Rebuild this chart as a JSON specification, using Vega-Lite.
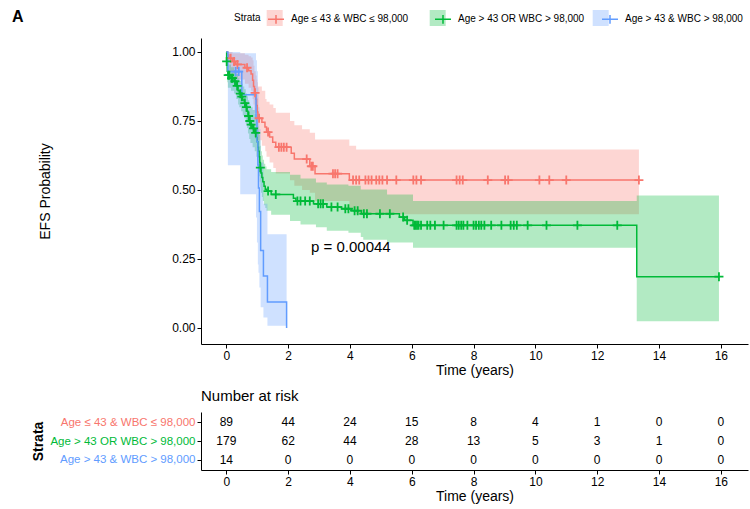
{
  "$schema": "https://vega.github.io/schema/vega-lite/v6.json",
  "padding": {"left": 12, "top": 9, "right": 2, "bottom": 2},
  "config": {
    "font": "Liberation Sans",
    "view": {"stroke": null},
    "axis": {"domainColor": "#000", "tickColor": "#000", "titleColor": "#000", "grid": false, "labelFontSize": 12, "titleFontSize": 14, "titleFontWeight": "normal", "tickSize": 4, "labelPadding": 2, "domainWidth": 1, "labelFlush": false, "labelOverlap": false}
  },
  "datasets": {
    "curve": [
      {"g":"r","t":0,"s":1},{"g":"r","t":0.04,"s":0.989},{"g":"r","t":0.08,"s":0.977},{"g":"r","t":0.2,"s":0.966},{"g":"r","t":0.3,"s":0.955},{"g":"r","t":0.6,"s":0.943},{"g":"r","t":0.72,"s":0.932},{"g":"r","t":0.8,"s":0.92},{"g":"r","t":0.85,"s":0.898},{"g":"r","t":0.88,"s":0.875},{"g":"r","t":0.91,"s":0.852},{"g":"r","t":0.95,"s":0.829},{"g":"r","t":0.98,"s":0.806},{"g":"r","t":1.0,"s":0.783},{"g":"r","t":1.02,"s":0.76},{"g":"r","t":1.15,"s":0.745},{"g":"r","t":1.25,"s":0.728},{"g":"r","t":1.3,"s":0.71},{"g":"r","t":1.4,"s":0.692},{"g":"r","t":1.5,"s":0.673},{"g":"r","t":1.6,"s":0.655},{"g":"r","t":2.1,"s":0.633},{"g":"r","t":2.2,"s":0.612},{"g":"r","t":2.7,"s":0.586},{"g":"r","t":2.87,"s":0.559},{"g":"r","t":3.98,"s":0.536},{"g":"r","t":13.35,"s":0.536},
      {"g":"g","t":0,"s":1},{"g":"g","t":0.01,"s":0.966},{"g":"g","t":0.03,"s":0.93},{"g":"g","t":0.05,"s":0.916},{"g":"g","t":0.15,"s":0.905},{"g":"g","t":0.25,"s":0.894},{"g":"g","t":0.32,"s":0.877},{"g":"g","t":0.38,"s":0.86},{"g":"g","t":0.42,"s":0.849},{"g":"g","t":0.48,"s":0.838},{"g":"g","t":0.53,"s":0.826},{"g":"g","t":0.58,"s":0.815},{"g":"g","t":0.63,"s":0.8},{"g":"g","t":0.67,"s":0.785},{"g":"g","t":0.7,"s":0.768},{"g":"g","t":0.74,"s":0.75},{"g":"g","t":0.78,"s":0.737},{"g":"g","t":0.85,"s":0.723},{"g":"g","t":0.92,"s":0.707},{"g":"g","t":0.97,"s":0.69},{"g":"g","t":1.0,"s":0.675},{"g":"g","t":1.02,"s":0.655},{"g":"g","t":1.04,"s":0.64},{"g":"g","t":1.06,"s":0.62},{"g":"g","t":1.08,"s":0.6},{"g":"g","t":1.1,"s":0.581},{"g":"g","t":1.12,"s":0.562},{"g":"g","t":1.15,"s":0.545},{"g":"g","t":1.18,"s":0.53},{"g":"g","t":1.22,"s":0.514},{"g":"g","t":1.26,"s":0.503},{"g":"g","t":1.3,"s":0.496},{"g":"g","t":1.45,"s":0.484},{"g":"g","t":2.17,"s":0.47},{"g":"g","t":2.25,"s":0.46},{"g":"g","t":2.82,"s":0.45},{"g":"g","t":3.25,"s":0.438},{"g":"g","t":3.73,"s":0.432},{"g":"g","t":4.05,"s":0.425},{"g":"g","t":4.37,"s":0.414},{"g":"g","t":5.6,"s":0.402},{"g":"g","t":5.77,"s":0.39},{"g":"g","t":6.04,"s":0.372},{"g":"g","t":13.28,"s":0.186},{"g":"g","t":15.94,"s":0.186},
      {"g":"b","t":0,"s":1},{"g":"b","t":0.05,"s":0.929},{"g":"b","t":0.5,"s":0.845},{"g":"b","t":0.96,"s":0.76},{"g":"b","t":0.99,"s":0.676},{"g":"b","t":1.02,"s":0.591},{"g":"b","t":1.04,"s":0.507},{"g":"b","t":1.07,"s":0.422},{"g":"b","t":1.11,"s":0.281},{"g":"b","t":1.2,"s":0.188},{"g":"b","t":1.33,"s":0.094},{"g":"b","t":1.95,"s":0}
    ],
    "band": [
      {"g":"R","t":0,"lo":1,"hi":1},{"g":"R","t":0.04,"lo":0.967,"hi":1},{"g":"R","t":0.1,"lo":0.93,"hi":1},{"g":"R","t":0.2,"lo":0.915,"hi":0.995},{"g":"R","t":0.3,"lo":0.9,"hi":0.995},{"g":"R","t":0.6,"lo":0.885,"hi":0.99},{"g":"R","t":0.72,"lo":0.87,"hi":0.985},{"g":"R","t":0.8,"lo":0.86,"hi":0.98},{"g":"R","t":0.85,"lo":0.83,"hi":0.97},{"g":"R","t":0.88,"lo":0.81,"hi":0.95},{"g":"R","t":0.91,"lo":0.78,"hi":0.93},{"g":"R","t":0.95,"lo":0.75,"hi":0.915},{"g":"R","t":0.98,"lo":0.73,"hi":0.9},{"g":"R","t":1.0,"lo":0.7,"hi":0.89},{"g":"R","t":1.02,"lo":0.68,"hi":0.875},{"g":"R","t":1.15,"lo":0.66,"hi":0.86},{"g":"R","t":1.26,"lo":0.64,"hi":0.83},{"g":"R","t":1.3,"lo":0.62,"hi":0.82},{"g":"R","t":1.4,"lo":0.6,"hi":0.81},{"g":"R","t":1.52,"lo":0.58,"hi":0.797},{"g":"R","t":1.6,"lo":0.56,"hi":0.78},{"g":"R","t":2.06,"lo":0.535,"hi":0.75},{"g":"R","t":2.2,"lo":0.515,"hi":0.735},{"g":"R","t":2.45,"lo":0.5,"hi":0.72},{"g":"R","t":2.7,"lo":0.49,"hi":0.707},{"g":"R","t":2.87,"lo":0.46,"hi":0.683},{"g":"R","t":3.98,"lo":0.43,"hi":0.66},{"g":"R","t":4.2,"lo":0.412,"hi":0.647},{"g":"R","t":13.35,"lo":0.412,"hi":0.647},
      {"g":"G","t":0,"lo":1,"hi":1},{"g":"G","t":0.01,"lo":0.94,"hi":0.99},{"g":"G","t":0.03,"lo":0.89,"hi":0.965},{"g":"G","t":0.05,"lo":0.87,"hi":0.955},{"g":"G","t":0.15,"lo":0.86,"hi":0.945},{"g":"G","t":0.25,"lo":0.85,"hi":0.935},{"g":"G","t":0.32,"lo":0.83,"hi":0.92},{"g":"G","t":0.38,"lo":0.81,"hi":0.905},{"g":"G","t":0.42,"lo":0.8,"hi":0.895},{"g":"G","t":0.48,"lo":0.785,"hi":0.885},{"g":"G","t":0.53,"lo":0.77,"hi":0.875},{"g":"G","t":0.58,"lo":0.76,"hi":0.865},{"g":"G","t":0.63,"lo":0.74,"hi":0.85},{"g":"G","t":0.67,"lo":0.725,"hi":0.84},{"g":"G","t":0.7,"lo":0.705,"hi":0.825},{"g":"G","t":0.74,"lo":0.685,"hi":0.81},{"g":"G","t":0.78,"lo":0.67,"hi":0.8},{"g":"G","t":0.85,"lo":0.655,"hi":0.79},{"g":"G","t":0.92,"lo":0.64,"hi":0.775},{"g":"G","t":0.97,"lo":0.62,"hi":0.76},{"g":"G","t":1.0,"lo":0.605,"hi":0.745},{"g":"G","t":1.02,"lo":0.585,"hi":0.73},{"g":"G","t":1.04,"lo":0.57,"hi":0.715},{"g":"G","t":1.06,"lo":0.55,"hi":0.7},{"g":"G","t":1.08,"lo":0.53,"hi":0.68},{"g":"G","t":1.1,"lo":0.51,"hi":0.66},{"g":"G","t":1.12,"lo":0.49,"hi":0.64},{"g":"G","t":1.15,"lo":0.475,"hi":0.625},{"g":"G","t":1.18,"lo":0.46,"hi":0.61},{"g":"G","t":1.22,"lo":0.445,"hi":0.595},{"g":"G","t":1.26,"lo":0.435,"hi":0.585},{"g":"G","t":1.3,"lo":0.425,"hi":0.575},{"g":"G","t":1.45,"lo":0.41,"hi":0.565},{"g":"G","t":2.06,"lo":0.388,"hi":0.555},{"g":"G","t":2.4,"lo":0.375,"hi":0.542},{"g":"G","t":2.9,"lo":0.365,"hi":0.527},{"g":"G","t":3.25,"lo":0.352,"hi":0.52},{"g":"G","t":3.95,"lo":0.345,"hi":0.515},{"g":"G","t":4.35,"lo":0.33,"hi":0.502},{"g":"G","t":4.43,"lo":0.32,"hi":0.502},{"g":"G","t":5.2,"lo":0.31,"hi":0.484},{"g":"G","t":6.04,"lo":0.291,"hi":0.46},{"g":"G","t":13.28,"lo":0.024,"hi":0.48},{"g":"G","t":15.94,"lo":0.024,"hi":0.48},
      {"g":"B","t":0,"lo":1,"hi":1},{"g":"B","t":0.05,"lo":0.59,"hi":1},{"g":"B","t":0.45,"lo":0.485,"hi":0.995},{"g":"B","t":0.96,"lo":0.4,"hi":0.97},{"g":"B","t":0.99,"lo":0.31,"hi":0.93},{"g":"B","t":1.02,"lo":0.23,"hi":0.87},{"g":"B","t":1.04,"lo":0.2,"hi":0.8},{"g":"B","t":1.07,"lo":0.147,"hi":0.72},{"g":"B","t":1.11,"lo":0.075,"hi":0.6},{"g":"B","t":1.2,"lo":0.038,"hi":0.45},{"g":"B","t":1.33,"lo":0.008,"hi":0.34},{"g":"B","t":1.95,"lo":0.008,"hi":0.34}
    ],
    "censor": [
      {"g":"r","t":0.14,"s":0.977},{"g":"r","t":0.25,"s":0.966},{"g":"r","t":0.36,"s":0.955},{"g":"r","t":0.67,"s":0.943},{"g":"r","t":0.93,"s":0.852},{"g":"r","t":1.06,"s":0.76},{"g":"r","t":1.35,"s":0.71},{"g":"r","t":1.7,"s":0.655},{"g":"r","t":1.78,"s":0.655},{"g":"r","t":1.86,"s":0.655},{"g":"r","t":1.95,"s":0.655},{"g":"r","t":2.6,"s":0.612},{"g":"r","t":2.75,"s":0.586},{"g":"r","t":2.8,"s":0.586},{"g":"r","t":3.45,"s":0.559},{"g":"r","t":3.52,"s":0.559},{"g":"r","t":3.6,"s":0.559},{"g":"r","t":4.1,"s":0.536},{"g":"r","t":4.2,"s":0.536},{"g":"r","t":4.3,"s":0.536},{"g":"r","t":4.5,"s":0.536},{"g":"r","t":4.6,"s":0.536},{"g":"r","t":4.7,"s":0.536},{"g":"r","t":4.85,"s":0.536},{"g":"r","t":4.95,"s":0.536},{"g":"r","t":5.05,"s":0.536},{"g":"r","t":5.2,"s":0.536},{"g":"r","t":5.5,"s":0.536},{"g":"r","t":6.05,"s":0.536},{"g":"r","t":6.15,"s":0.536},{"g":"r","t":6.3,"s":0.536},{"g":"r","t":7.45,"s":0.536},{"g":"r","t":7.55,"s":0.536},{"g":"r","t":7.65,"s":0.536},{"g":"r","t":8.46,"s":0.536},{"g":"r","t":9.02,"s":0.536},{"g":"r","t":9.12,"s":0.536},{"g":"r","t":10.13,"s":0.536},{"g":"r","t":10.45,"s":0.536},{"g":"r","t":11.0,"s":0.536},{"g":"r","t":13.35,"s":0.536},
      {"g":"g","t":0.01,"s":0.966},{"g":"g","t":0.06,"s":0.916},{"g":"g","t":0.1,"s":0.916},{"g":"g","t":0.17,"s":0.905},{"g":"g","t":0.2,"s":0.905},{"g":"g","t":0.28,"s":0.894},{"g":"g","t":0.35,"s":0.877},{"g":"g","t":0.45,"s":0.849},{"g":"g","t":0.5,"s":0.838},{"g":"g","t":0.6,"s":0.815},{"g":"g","t":0.65,"s":0.8},{"g":"g","t":0.72,"s":0.768},{"g":"g","t":0.76,"s":0.75},{"g":"g","t":0.8,"s":0.737},{"g":"g","t":0.88,"s":0.723},{"g":"g","t":0.95,"s":0.707},{"g":"g","t":1.1,"s":0.581},{"g":"g","t":1.35,"s":0.496},{"g":"g","t":1.6,"s":0.484},{"g":"g","t":2.3,"s":0.46},{"g":"g","t":2.4,"s":0.46},{"g":"g","t":2.55,"s":0.46},{"g":"g","t":2.7,"s":0.46},{"g":"g","t":2.97,"s":0.45},{"g":"g","t":3.05,"s":0.45},{"g":"g","t":3.13,"s":0.45},{"g":"g","t":3.4,"s":0.438},{"g":"g","t":3.6,"s":0.438},{"g":"g","t":3.85,"s":0.432},{"g":"g","t":3.95,"s":0.432},{"g":"g","t":4.15,"s":0.425},{"g":"g","t":4.25,"s":0.425},{"g":"g","t":4.45,"s":0.414},{"g":"g","t":4.55,"s":0.414},{"g":"g","t":4.97,"s":0.414},{"g":"g","t":5.29,"s":0.414},{"g":"g","t":5.72,"s":0.402},{"g":"g","t":5.85,"s":0.39},{"g":"g","t":6.08,"s":0.372},{"g":"g","t":6.12,"s":0.372},{"g":"g","t":6.17,"s":0.372},{"g":"g","t":6.22,"s":0.372},{"g":"g","t":6.3,"s":0.372},{"g":"g","t":6.5,"s":0.372},{"g":"g","t":6.6,"s":0.372},{"g":"g","t":6.75,"s":0.372},{"g":"g","t":7.03,"s":0.372},{"g":"g","t":7.45,"s":0.372},{"g":"g","t":7.52,"s":0.372},{"g":"g","t":7.6,"s":0.372},{"g":"g","t":7.67,"s":0.372},{"g":"g","t":7.8,"s":0.372},{"g":"g","t":8.0,"s":0.372},{"g":"g","t":8.08,"s":0.372},{"g":"g","t":8.17,"s":0.372},{"g":"g","t":8.25,"s":0.372},{"g":"g","t":8.35,"s":0.372},{"g":"g","t":8.57,"s":0.372},{"g":"g","t":8.9,"s":0.372},{"g":"g","t":9.2,"s":0.372},{"g":"g","t":9.3,"s":0.372},{"g":"g","t":9.4,"s":0.372},{"g":"g","t":9.75,"s":0.372},{"g":"g","t":10.36,"s":0.372},{"g":"g","t":11.36,"s":0.372},{"g":"g","t":12.65,"s":0.372},{"g":"g","t":15.94,"s":0.186},
      {"g":"b","t":0.3,"s":0.929},{"g":"b","t":0.4,"s":0.929}
    ],
    "risk": [
      {"g":"R","t":0,"n":89},{"g":"R","t":2,"n":44},{"g":"R","t":4,"n":24},{"g":"R","t":6,"n":15},{"g":"R","t":8,"n":8},{"g":"R","t":10,"n":4},{"g":"R","t":12,"n":1},{"g":"R","t":14,"n":0},{"g":"R","t":16,"n":0},
      {"g":"G","t":0,"n":179},{"g":"G","t":2,"n":62},{"g":"G","t":4,"n":44},{"g":"G","t":6,"n":28},{"g":"G","t":8,"n":13},{"g":"G","t":10,"n":5},{"g":"G","t":12,"n":3},{"g":"G","t":14,"n":1},{"g":"G","t":16,"n":0},
      {"g":"B","t":0,"n":14},{"g":"B","t":2,"n":0},{"g":"B","t":4,"n":0},{"g":"B","t":6,"n":0},{"g":"B","t":8,"n":0},{"g":"B","t":10,"n":0},{"g":"B","t":12,"n":0},{"g":"B","t":14,"n":0},{"g":"B","t":16,"n":0}
    ],
    "ptext": [{"t": 2.74, "s": 0.295, "label": "p = 0.00044"}]
  },
  "spacing": 68,
  "bounds": "flush",
  "resolve": {"legend": {"fill": "independent", "stroke": "independent"}, "scale": {"x": "independent", "y": "independent"}},
  "vconcat": [
    {
      "width": 547,
      "height": 306,
      "title": {"text": "A", "anchor": "start", "frame": "group", "dx": -189, "dy": 19, "fontSize": 16, "fontWeight": "bold", "color": "#000"},
      "layer": [
        {
          "data": {"name": "band"},
          "mark": {"type": "area", "interpolate": "step-after", "fillOpacity": 0.3},
          "encoding": {
            "x": {"field": "t", "type": "quantitative", "scale": {"domain": [-0.82, 16.88], "nice": false, "zero": false}, "axis": {"values": [0,2,4,6,8,10,12,14,16], "title": "Time (years)", "titlePadding": 2, "labelColor": "#000"}},
            "y": {"field": "lo", "type": "quantitative", "scale": {"domain": [-0.058, 1.0507], "nice": false, "zero": false}, "axis": {"values": [0, 0.25, 0.5, 0.75, 1], "format": ".2f", "labelColor": "#000", "title": "EFS Probability", "titleX": -156, "titleY": 153, "titleAlign": "center", "titleBaseline": "middle"}},
            "y2": {"field": "hi"},
            "fill": {"field": "g", "type": "nominal", "scale": {"domain": ["R","G","B"], "range": ["#F8766D","#00BA38","#619CFF"]},
              "legend": {"orient": "none", "legendX": 65.7, "legendY": -28, "direction": "horizontal", "columns": 3, "gridAlign": "all", "columnPadding": 14, "title": null, "labelFontSize": 10, "labelOffset": 132.2, "symbolType": "square", "symbolSize": 256, "symbolStrokeWidth": 0, "symbolOpacity": 0.3,
                "labelExpr": "''"}}
          }
        },
        {
          "data": {"name": "curve"},
          "mark": {"type": "line", "interpolate": "step-after", "strokeWidth": 1.5},
          "encoding": {
            "x": {"field": "t", "type": "quantitative"},
            "y": {"field": "s", "type": "quantitative"},
            "stroke": {"field": "g", "type": "nominal", "scale": {"domain": ["r","g","b"], "range": ["#F8766D","#00BA38","#619CFF"]},
              "legend": {"orient": "none", "legendX": 33, "legendY": -28, "direction": "horizontal", "columns": 3, "gridAlign": "all", "columnPadding": 14, "title": "Strata", "titleOrient": "left", "titleFontSize": 10, "titleFontWeight": "normal", "titlePadding": 6, "titleColor": "#000", "labelColor": "#000", "labelFontSize": 10, "labelOffset": 6, "symbolType": "M-1,0H1M0,-0.55V0.55", "symbolSize": 256, "symbolStrokeWidth": 1.5, "symbolFillColor": "transparent",
                "labelExpr": "datum.label == 'r' ? 'Age ≤ 43 & WBC ≤ 98,000' : datum.label == 'g' ? 'Age > 43 OR WBC > 98,000' : 'Age > 43 & WBC > 98,000'"}}
          }
        },
        {
          "data": {"name": "censor"},
          "mark": {"type": "point", "shape": "M-1,0H1M0,-1V1", "size": 81, "strokeWidth": 1.8, "filled": false, "opacity": 1},
          "encoding": {
            "x": {"field": "t", "type": "quantitative"},
            "y": {"field": "s", "type": "quantitative"},
            "stroke": {"field": "g", "type": "nominal"}
          }
        },
        {
          "data": {"name": "ptext"},
          "mark": {"type": "text", "align": "left", "baseline": "middle", "fontSize": 15, "color": "#000"},
          "encoding": {
            "x": {"field": "t", "type": "quantitative"},
            "y": {"field": "s", "type": "quantitative"},
            "text": {"field": "label"}
          }
        }
      ]
    },
    {
      "width": 547,
      "height": 58,
      "title": {"text": "Number at risk", "anchor": "start", "frame": "group", "fontSize": 15, "fontWeight": "normal", "offset": 8, "color": "#000"},
      "data": {"name": "risk"},
      "mark": {"type": "text", "fontSize": 12, "color": "#000"},
      "encoding": {
        "x": {"field": "t", "type": "quantitative", "scale": {"domain": [-0.82, 16.88], "nice": false, "zero": false}, "axis": {"values": [0,2,4,6,8,10,12,14,16], "title": "Time (years)", "titlePadding": 2, "labelColor": "#000"}},
        "y": {"field": "g", "type": "nominal", "scale": {"type": "point", "domain": ["R","G","B"], "padding": 0.55},
          "axis": {"title": "Strata", "titleFontWeight": "bold", "titleX": -163, "titleY": 29, "titleAlign": "center", "titleBaseline": "middle", "labelFontSize": 11.5,
            "labelExpr": "datum.label == 'R' ? 'Age ≤ 43 & WBC ≤ 98,000' : datum.label == 'G' ? 'Age > 43 OR WBC > 98,000' : 'Age > 43 & WBC > 98,000'",
            "labelColor": {"expr": "datum.value == 'R' ? '#F8766D' : datum.value == 'G' ? '#00BA38' : '#619CFF'"}}},
        "text": {"field": "n", "type": "quantitative"}
      }
    }
  ]
}
